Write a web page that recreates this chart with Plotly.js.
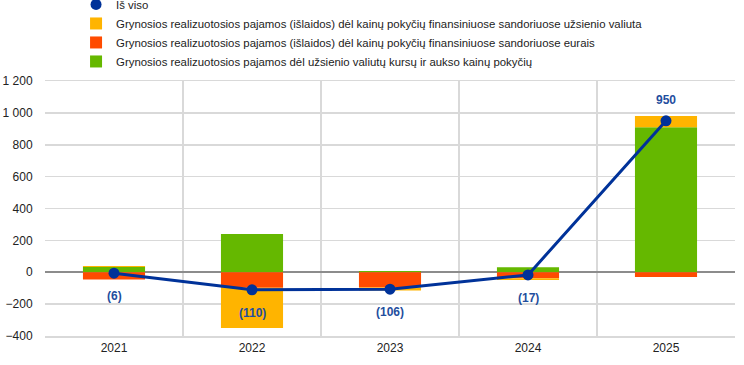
<!DOCTYPE html>
<html>
<head>
<meta charset="utf-8">
<script src="https://cdn.plot.ly/plotly-3.0.1.min.js"></script>
<style>html,body{margin:0;padding:0;background:#fff;}#chart{width:744px;height:365px;}</style>
</head>
<body>
<div id="chart"></div>
<script>
const years = ['2021', '2022', '2023', '2024', '2025'];
const fxGold = [33, 240, 8, 32, 910];          // green
const priceEuro = [-46, -97, -96, -37, -30];   // red
const priceForeign = [7, -253, -18, -12, 70];  // yellow
const total = [-6, -110, -106, -17, 950];

const names = {
  total: 'Iš viso',
  foreign: 'Grynosios realizuotosios pajamos (išlaidos) dėl kainų pokyčių finansiniuose sandoriuose užsienio valiuta',
  euro: 'Grynosios realizuotosios pajamos (išlaidos) dėl kainų pokyčių finansiniuose sandoriuose eurais',
  fx: 'Grynosios realizuotosios pajamos dėl užsienio valiutų kursų ir aukso kainų pokyčių'
};

const cGreen = '#65B800', cRed = '#FF4B00', cYellow = '#FFB400', cBlue = '#003299';
const fmt = v => v < 0 ? '(' + Math.abs(v) + ')' : String(v);

const traces = [
  {type: 'bar', x: years, y: fxGold, name: names.fx, marker: {color: cGreen}, width: 0.45, legendrank: 4, hoverinfo: 'skip'},
  {type: 'bar', x: years, y: priceEuro, name: names.euro, marker: {color: cRed}, width: 0.45, legendrank: 3, hoverinfo: 'skip'},
  {type: 'bar', x: years, y: priceForeign, name: names.foreign, marker: {color: cYellow}, width: 0.45, legendrank: 2, hoverinfo: 'skip'},
  {type: 'scatter', mode: 'lines', x: years, y: total, line: {color: cBlue, width: 3}, showlegend: false, hoverinfo: 'skip'},
  {type: 'scatter', mode: 'markers', x: years, y: total, name: names.total, marker: {color: cBlue, size: 11}, legendrank: 1, hoverinfo: 'skip'}
];

const annotations = years.map((yr, i) => ({
  x: i, y: total[i], xref: 'x', yref: 'y',
  text: '<b>' + fmt(total[i]) + '</b>',
  showarrow: false,
  yshift: total[i] < 0 ? -23 : 21,
  font: {family: 'Liberation Sans, Arial, sans-serif', size: 12, color: '#1F4E9E'}
}));

const layout = {
  width: 744, height: 365,
  margin: {l: 45, r: 9, t: 81, b: 29, autoexpand: false},
  paper_bgcolor: '#fff', plot_bgcolor: '#fff',
  font: {family: 'Liberation Sans, Arial, sans-serif', size: 12, color: '#222'},
  separators: ', ',
  barmode: 'relative',
  showlegend: true,
  legend: {
    x: 0.045, xanchor: 'left',
    y: 1.357, yanchor: 'top',
    traceorder: 'normal', tracegroupgap: 0,
    font: {size: 11.4, color: '#222'},
    itemwidth: 30, bgcolor: 'rgba(0,0,0,0)'
  },
  xaxis: {
    type: 'category', categoryorder: 'array', categoryarray: years,
    range: [-0.5, 4.5], tickson: 'boundaries',
    showgrid: true, gridcolor: '#D9D9D9', gridwidth: 1.5,
    ticks: '', showline: true, linecolor: '#D9D9D9', linewidth: 1.5, mirror: true,
    tickfont: {size: 12, color: '#222'}, fixedrange: true, automargin: false
  },
  yaxis: {
    range: [-400, 1200], dtick: 200, tick0: 0,
    tickformat: ',d', separatethousands: true,
    showgrid: true, gridcolor: '#D9D9D9', gridwidth: 1.5,
    zeroline: true, zerolinecolor: '#8C8C8C', zerolinewidth: 2,
    ticks: 'outside', ticklen: 9, tickcolor: 'rgba(0,0,0,0)',
    tickfont: {size: 12, color: '#222'}, fixedrange: true, automargin: false
  },
  annotations: annotations
};

Plotly.newPlot('chart', traces, layout, {displayModeBar: false, staticPlot: true});
</script>
</body>
</html>
